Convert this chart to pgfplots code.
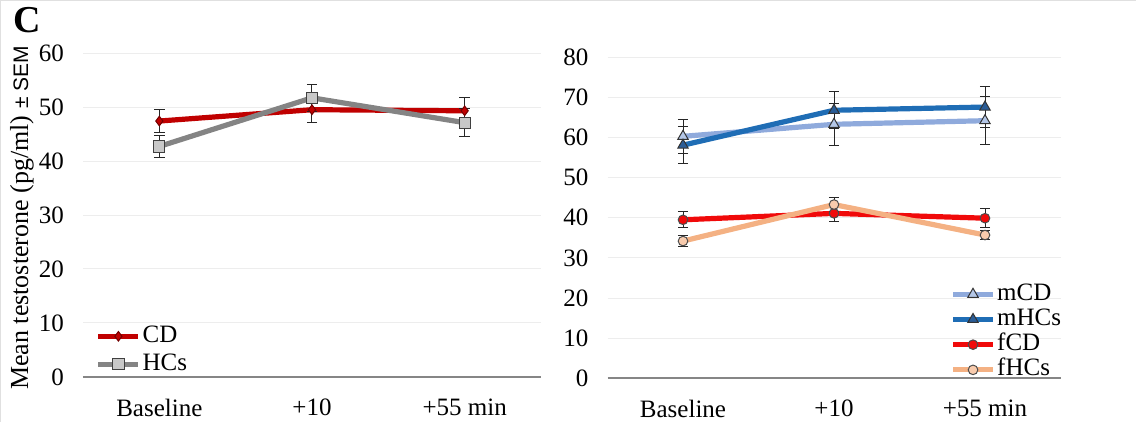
\documentclass[border=0pt]{standalone}
\usepackage{fontspec}
\setmainfont{Liberation Serif}
\setsansfont{Liberation Sans}
\usepackage{pgfplots}
\pgfplotsset{compat=1.18}
\definecolor{cdred}{HTML}{C00000}
\definecolor{hcgray}{HTML}{848484}
\definecolor{hcfill}{HTML}{C8C8C8}
\definecolor{mcdblue}{HTML}{8FAADC}
\definecolor{mcdfill}{HTML}{B4C7E7}
\definecolor{mhcblue}{HTML}{1F6DB5}
\definecolor{mhcfill}{HTML}{2A5C96}
\definecolor{fcdred}{HTML}{F00A0A}
\definecolor{fhcpeach}{HTML}{F4B183}
\definecolor{fhcfill}{HTML}{F8CBAD}
\definecolor{gridc}{HTML}{EDEDED}
\definecolor{axisc}{HTML}{868686}
\pgfplotsset{
  common/.style={
    scale only axis,
    anchor=south west,
    xmin=-0.5, xmax=2.5,
    xtick={0,1,2},
    xticklabels={Baseline,+10,+55 min},
    ymin=0,
    axis lines*=left,
    y axis line style={draw=none},
    x axis line style={axisc, line width=1pt},
    major tick length=0pt,
    ymajorgrids,
    grid style={gridc, line width=0.5pt},
    tick label style={font=\fontsize{12.5}{14}\selectfont},
    /pgf/number format/assume math mode=true,
    xticklabel style={yshift=-7.5pt},
    yticklabel style={xshift=-6pt},
    clip=false,
    legend cell align=left,
    legend style={draw=none, fill=none, font=\fontsize{12.5}{13}\selectfont, inner sep=0pt, outer sep=0pt},
    legend image code/.code={\draw[mark repeat=2,mark phase=2,##1] plot coordinates {(0pt,0pt) (10pt,0pt) (20pt,0pt)};},
    every axis plot/.append style={line width=2.6pt},
    error bars/y dir=both,
    error bars/y explicit,
    error bars/error bar style={black!85, line width=0.5pt},
    error bars/error mark options={rotate=90, mark size=2.6pt, black!85, line width=0.5pt},
  },
}
\begin{document}
\begin{tikzpicture}
\useasboundingbox (0,0) rectangle (568pt,211pt);
\draw[black!12, line width=0.5pt] (0.25pt,0pt) -- (0.25pt,210.75pt) -- (568pt,210.75pt);
\node[font=\fontsize{19}{20}\selectfont\bfseries] at (13.5pt,200.8pt) {C};
\node[rotate=90, font=\fontsize{13}{15}\selectfont] at (11pt,102pt) {Mean testosterone (pg/ml) {\sffamily\fontsize{10.5}{13}\selectfont ± SEM}};
\begin{axis}[common,
  at={(41.5pt,22.5pt)},
  width=229pt, height=162pt,
  ymax=60, ytick={0,10,...,60},
  legend style={at={(0.028,-0.004)}, anchor=south west,
    nodes={inner xsep=0.8pt, inner ysep=1.5pt, text height=8.5pt, text depth=2.5pt}},
]
\addplot[cdred, mark=diamond*, mark size=2.4pt, mark options={fill=cdred, draw=cdred!60!black, line width=0.5pt}]
  coordinates {(0,47.4) +- (0,2.2) (1,49.5) +- (0,2.3) (2,49.3) +- (0,2.5)};
\addlegendentry{CD}
\addplot[hcgray, mark=square*, mark size=2.8pt, mark options={fill=hcfill, draw=black!75, line width=0.5pt}]
  coordinates {(0,42.7) +- (0,2.0) (1,51.7) +- (0,2.5) (2,47.1) +- (0,2.6)};
\addlegendentry{HCs}
\end{axis}
\begin{axis}[common,
  at={(303.75pt,21.85pt)},
  width=226.5pt, height=160.5pt,
  ymax=80, ytick={0,10,...,80},
  legend style={at={(0.757,-0.013)}, anchor=south west,
    nodes={inner xsep=0.8pt, inner ysep=1.3pt, text height=8pt, text depth=2pt}},
]
\addplot[mcdblue, mark=triangle*, mark size=3pt, mark options={fill=mcdfill, draw=black!80, line width=0.5pt}]
  coordinates {(0,60.3) +- (0,4.3) (1,63.3) +- (0,5.3) (2,64.2) +- (0,6.0)};
\addlegendentry{mCD}
\addplot[mhcblue, mark=triangle*, mark size=3pt, mark options={fill=mhcfill, draw=black!80, line width=0.5pt}]
  coordinates {(0,58.1) +- (0,4.6) (1,66.8) +- (0,4.6) (2,67.6) +- (0,5.0)};
\addlegendentry{mHCs}
\addplot[fcdred, mark=*, mark size=2.4pt, mark options={fill=fcdred, draw=black!70, line width=0.5pt}]
  coordinates {(0,39.5) +- (0,1.95) (1,41.1) +- (0,2.0) (2,39.9) +- (0,2.3)};
\addlegendentry{fCD}
\addplot[fhcpeach, mark=*, mark size=2.4pt, mark options={fill=fhcfill, draw=black!70, line width=0.5pt}]
  coordinates {(0,34.2) +- (0,1.3) (1,43.3) +- (0,1.7) (2,35.7) +- (0,1.2)};
\addlegendentry{fHCs}
\end{axis}
\end{tikzpicture}
\end{document}
